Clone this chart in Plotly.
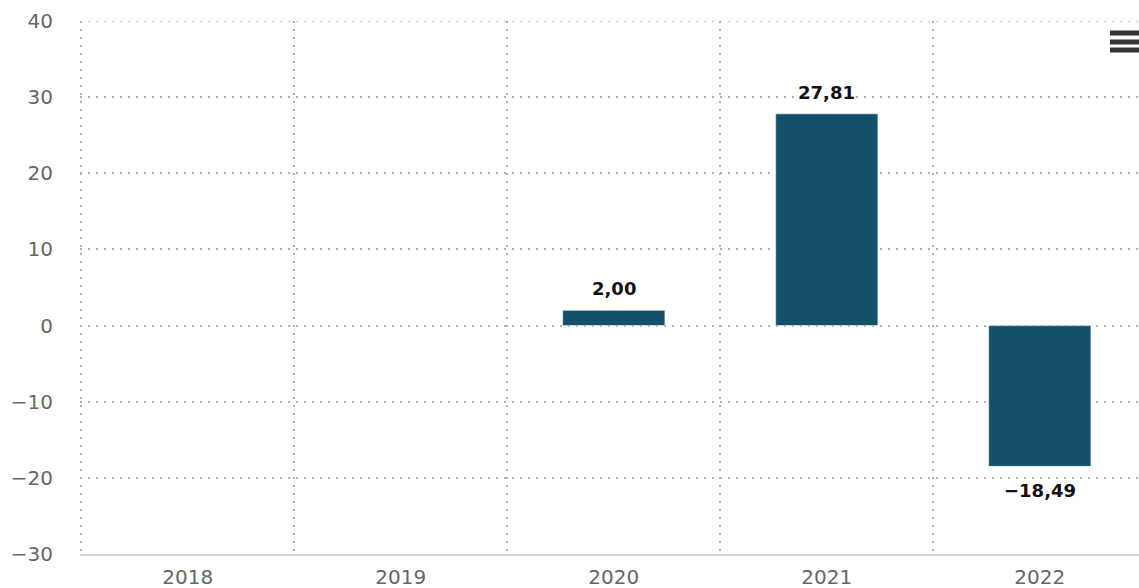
import plotly.graph_objects as go

# ---- data ----
years = ["2018", "2019", "2020", "2021", "2022"]
values = [None, None, 2.00, 27.81, -18.49]
y_ticks = [-30, -20, -10, 0, 10, 20, 30, 40]

BAR_COLOR = "#15506b"
GRID_COLOR = "#b0b0b0"
GRID_DASH = "2px,6px"
FONT = "DejaVu Sans"


def fmt_val(v):
    return f"{v:.2f}".replace(".", ",").replace("-", "\u2212")


def fmt_tick(v):
    return str(v).replace("-", "\u2212")


fig = go.Figure(
    go.Bar(
        x=years,
        y=values,
        width=0.48,
        marker=dict(color=BAR_COLOR, line=dict(color="rgba(255,255,255,0.55)", width=1)),
        hoverinfo="skip",
    )
)

annotations = []
for i, (yr, v) in enumerate(zip(years, values)):
    if v is None:
        continue
    annotations.append(
        dict(
            x=i, y=v, xref="x", yref="y",
            text=f"<b>{fmt_val(v)}</b>",
            showarrow=False,
            yanchor="bottom" if v >= 0 else "top",
            yshift=9 if v >= 0 else -12,
            font=dict(family=FONT, size=18, color="#111111"),
        )
    )

# hamburger (export menu) icon at top right
W, L, T, B = 1139, 80, 21, 554
def px_x(px):
    return (px - L) / (W - L)
def px_y(py):
    return (B - py) / (B - T)

shapes = []
# top edge grid line that plotly omits at the plot border
shapes.append(dict(type="line", xref="paper", yref="y", x0=0, x1=1,
                   y0=max(y_ticks), y1=max(y_ticks), layer="below",
                   line=dict(color=GRID_COLOR, width=1.5, dash=GRID_DASH)))
for py in (33, 42, 50):
    shapes.append(
        dict(type="line", xref="paper", yref="paper",
             x0=px_x(1110), x1=px_x(1145), y0=px_y(py), y1=px_y(py),
             line=dict(color="#333333", width=5))
    )

fig.update_layout(
    width=1139,
    height=588,
    margin=dict(l=L, r=0, t=T, b=588 - B, autoexpand=False),
    paper_bgcolor="white",
    plot_bgcolor="white",
    showlegend=False,
    annotations=annotations,
    shapes=shapes,
    font=dict(family=FONT, color="#666666"),
)

x0 = -0.506
fig.update_xaxes(
    type="category",
    range=[x0, x0 + (W - L) / 213.0],
    tickson="boundaries",
    showgrid=True,
    gridcolor=GRID_COLOR,
    gridwidth=1.5,
    griddash=GRID_DASH,
    ticks="",
    showline=True,
    linecolor="#ccd6eb",
    linewidth=1.5,
    tickfont=dict(family=FONT, size=20, color="#666666"),
    ticklabelstandoff=4,
    zeroline=False,
    automargin=False,
)

fig.update_yaxes(
    range=[-30, 40],
    tickvals=y_ticks,
    ticktext=[fmt_tick(v) for v in y_ticks],
    showgrid=True,
    gridcolor=GRID_COLOR,
    gridwidth=1.5,
    griddash=GRID_DASH,
    zeroline=False,
    showline=False,
    ticks="",
    tickfont=dict(family=FONT, size=20, color="#666666"),
    ticklabelstandoff=26,
    automargin=False,
)

fig.write_html(
    "out.html",
    config={"displayModeBar": False},
    post_script="document.body.style.margin='0';document.body.style.overflow='hidden';",
)
